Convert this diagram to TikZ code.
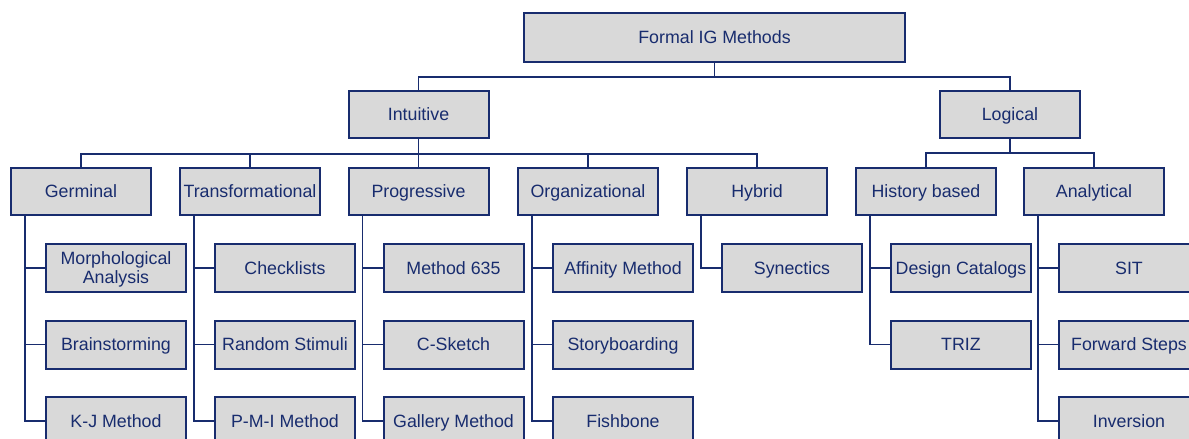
\documentclass[tikz,border=0pt]{standalone}
\usepackage{fontspec}
\setmainfont{Liberation Sans}
\definecolor{navy}{RGB}{24,44,110}
\definecolor{boxgrey}{RGB}{217,217,217}
\tikzset{
  box/.style={draw=navy, fill=boxgrey, line width=2pt, minimum width=140pt,
    minimum height=47pt, inner sep=0pt, text=navy, align=center,
    text height=16pt, text depth=3.2pt,
    font=\fontsize{17.8}{18.5}\selectfont},
  leaf/.style={box, minimum height=48pt},
  link/.style={draw=navy, line width=1.8pt}
}
\begin{document}
\begin{tikzpicture}[x=1pt, y=-1pt]
\useasboundingbox (0,0) rectangle (1189,439);
% root and first level
\node[box, minimum width=381pt, minimum height=49pt] (root) at (714.5,37.5) {Formal IG Methods};
\node[box] (intu) at (418.5,114.5) {Intuitive};
\node[box] (logi) at (1010,114.5) {Logical};
% second level
\node[box] (germ)  at (81,191.5)   {Germinal};
\node[box] (trans) at (250,191.5)  {Transformational};
\node[box] (prog)  at (418.5,191.5){Progressive};
\node[box] (org)   at (588,191.5)  {Organizational};
\node[box] (hyb)   at (757,191.5)  {Hybrid};
\node[box] (hist)  at (926,191.5)  {History based};
\node[box] (anal)  at (1094,191.5) {Analytical};
% leaves
\node[leaf, text height=33.2pt] (morph) at (116,268) {Morphological\\Analysis};
\node[leaf] (brain) at (116,344.5) {Brainstorming};
\node[leaf] (kj)    at (116,421)   {K-J Method};
\node[leaf] (check) at (285,268)   {Checklists};
\node[leaf] (rand)  at (285,344.5) {Random Stimuli};
\node[leaf] (pmi)   at (285,421)   {P-M-I Method};
\node[leaf] (m635)  at (453.5,268)   {Method 635};
\node[leaf] (csk)   at (453.5,344.5) {C-Sketch};
\node[leaf] (gal)   at (453.5,421)   {Gallery Method};
\node[leaf] (aff)   at (623,268)   {Affinity Method};
\node[leaf] (story) at (623,344.5) {Storyboarding};
\node[leaf] (fish)  at (623,421)   {Fishbone};
\node[leaf] (syn)   at (792,268)   {Synectics};
\node[leaf] (dcat)  at (961,268)   {Design Catalogs};
\node[leaf] (triz)  at (961,344.5) {TRIZ};
\node[leaf] (sit)   at (1129,268)   {SIT};
\node[leaf] (fwd)   at (1129,344.5) {Forward Steps};
\node[leaf] (inv)   at (1129,421)   {Inversion};
% tree connectors
\path[link] (root.south) -- ++(0,14) -| (intu.north);
\path[link] (root.south) -- ++(0,14) -| (logi.north);
\foreach \c in {germ,trans,prog,org,hyb}
  \path[link] (intu.south) -- ++(0,15) -| (\c.north);
\foreach \c in {hist,anal}
  \path[link] (logi.south) -- ++(0,14) -| (\c.north);
\foreach \p/\k in {germ/morph,germ/brain,germ/kj,trans/check,trans/rand,trans/pmi,
                   prog/m635,prog/csk,prog/gal,org/aff,org/story,org/fish,hyb/syn,
                   hist/dcat,hist/triz,anal/sit,anal/fwd,anal/inv}
  \path[link] ([xshift=-56pt]\p.south) |- (\k.west);
\end{tikzpicture}
\end{document}
